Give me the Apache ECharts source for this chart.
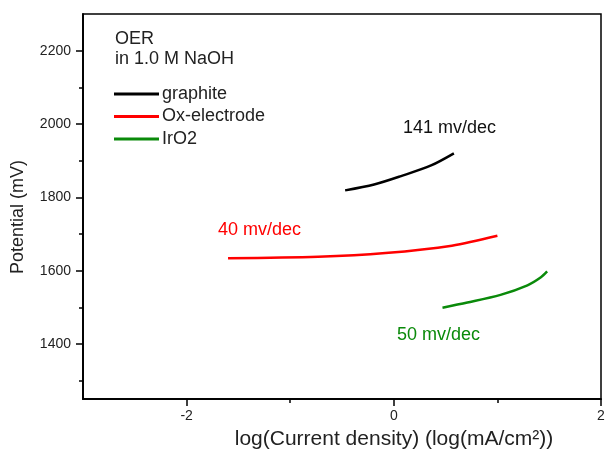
<!DOCTYPE html>
<html>
<head>
<meta charset="utf-8">
<script src="https://cdn.jsdelivr.net/npm/echarts@6/dist/echarts.min.js"></script>
<style>html,body{margin:0;padding:0;background:#fff}#c{width:608px;height:464px}</style>
</head>
<body>
<div id="c"></div>
<script>
// Data
const seriesNames = ['graphite', 'Ox-electrode', 'IrO2'];
const graphiteX = [-0.47, -0.19, 0.07, 0.36, 0.58];
const graphiteY = [1819, 1835, 1858, 1887, 1920];
const oxX = [-1.60, -0.73, -0.08, 0.56, 1.00];
const oxY = [1634, 1638, 1648, 1668, 1695];
const irX = [0.47, 0.71, 1.03, 1.29, 1.42, 1.48];
const irY = [1499, 1513, 1534, 1560, 1582, 1598];
const xMajorTicks = [-2, 0, 2];
const xMinorTicks = [-1, 1];
const yMajorTicks = [1400, 1600, 1800, 2000, 2200];
const yMinorTicks = [1300, 1500, 1700, 1900, 2100];
const slopeLabels = ['141 mv/dec', '40 mv/dec', '50 mv/dec'];
const headerLines = ['OER', 'in 1.0 M NaOH'];
const xTitle = 'log(Current density) (log(mA/cm²))';
const yTitle = 'Potential (mV)';

const colors = ['#000000', '#ff0000', '#0a8a0a'];
const FONT = '"Liberation Sans", Arial, sans-serif';
const zip = (a, b) => a.map((v, i) => [v, b[i]]);

const chart = echarts.init(document.getElementById('c'), null, {renderer: 'canvas'});
const axisColor = '#000';
const labelColor = '#222';

function axisCfg(isX, ticks, labels, len) {
  return {
    type: 'value',
    min: isX ? -3 : 1250, max: isX ? 2 : 2300,
    position: isX ? 'bottom' : 'left',
    axisLine: {show: true, onZero: false, lineStyle: {color: axisColor, width: 1.5}},
    axisTick: {show: true, inside: false, length: len, customValues: ticks, lineStyle: {color: axisColor, width: 1.5}},
    axisLabel: labels ? {show: true, customValues: labels, fontSize: 14, color: labelColor, fontFamily: FONT,
      margin: isX ? 10 : 12, formatter: v => String(v)} : {show: false},
    splitLine: {show: false}
  };
}

const option = {
  animation: false,
  backgroundColor: '#fff',
  grid: {left: 83, right: 7, top: 14, bottom: 65, show: true, borderColor: '#000', borderWidth: 1.5, backgroundColor: 'transparent'},
  xAxis: [axisCfg(true, xMajorTicks, xMajorTicks, 7), axisCfg(true, xMinorTicks, null, 4)],
  yAxis: [axisCfg(false, yMajorTicks, yMajorTicks, 7), axisCfg(false, yMinorTicks, null, 4)],
  title: {
    text: headerLines.join('\n'), left: 115, top: 29, padding: 0,
    textStyle: {fontSize: 18, fontWeight: 'normal', color: labelColor, fontFamily: FONT, lineHeight: 20}
  },
  legend: {
    orient: 'vertical', left: 114, top: 85, padding: 0,
    icon: 'rect', itemWidth: 45, itemHeight: 3, itemGap: 4.5,
    data: seriesNames,
    textStyle: {fontSize: 18, color: labelColor, fontFamily: FONT, lineHeight: 17, padding: [0, 0, 0, -2]}
  },
  series: [
    {name: seriesNames[0], type: 'line', data: zip(graphiteX, graphiteY), smooth: 0.3, showSymbol: false, lineStyle: {color: colors[0], width: 2.5}, itemStyle: {color: colors[0]}},
    {name: seriesNames[1], type: 'line', data: zip(oxX, oxY), smooth: 0.3, showSymbol: false, lineStyle: {color: colors[1], width: 2.5}, itemStyle: {color: colors[1]}},
    {name: seriesNames[2], type: 'line', data: zip(irX, irY), smooth: 0.3, showSymbol: false, lineStyle: {color: colors[2], width: 2.5}, itemStyle: {color: colors[2]}}
  ],
  graphic: [
    {type: 'text', x: 403, y: 137, style: {text: slopeLabels[0], fill: '#111', font: '18px ' + FONT, textVerticalAlign: 'bottom'}},
    {type: 'text', x: 218, y: 239, style: {text: slopeLabels[1], fill: colors[1], font: '18px ' + FONT, textVerticalAlign: 'bottom'}},
    {type: 'text', x: 397, y: 344, style: {text: slopeLabels[2], fill: colors[2], font: '18px ' + FONT, textVerticalAlign: 'bottom'}},
    {type: 'text', x: 394, y: 439, style: {text: xTitle, fill: labelColor, font: '21px ' + FONT, textAlign: 'center', textVerticalAlign: 'middle'}},
    {type: 'text', x: 18, y: 217, rotation: Math.PI / 2, style: {text: yTitle, fill: labelColor, font: '18px ' + FONT, textAlign: 'center', textVerticalAlign: 'middle'}}
  ]
};
chart.setOption(option);
</script>
</body>
</html>
